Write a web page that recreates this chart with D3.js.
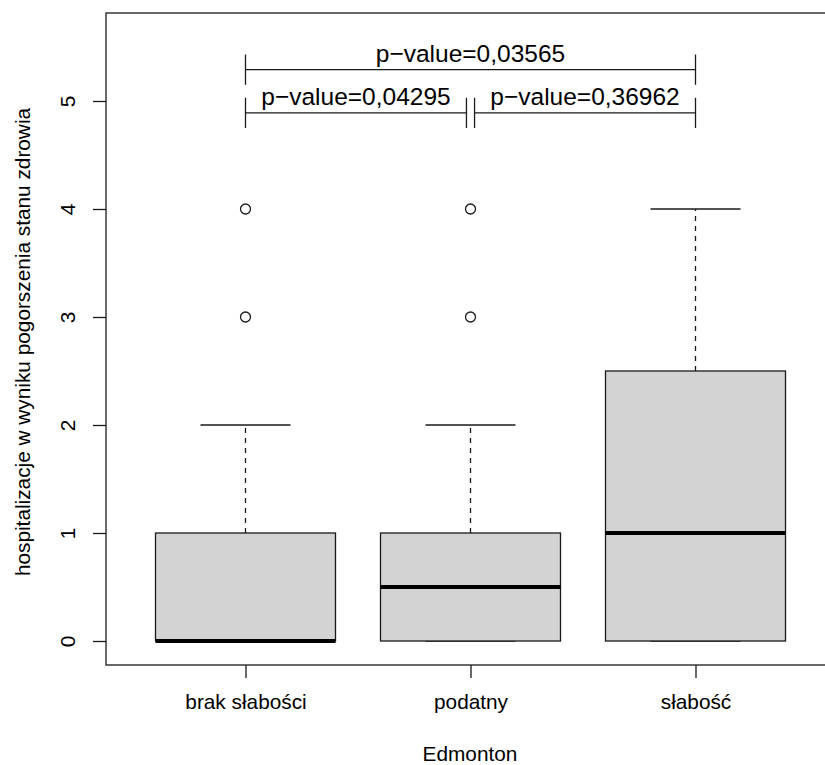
<!DOCTYPE html>
<html>
<head>
<meta charset="utf-8">
<script src="https://cdn.jsdelivr.net/npm/d3@7"></script>
<style>
  html, body { margin: 0; padding: 0; background: #fff; }
  svg { display: block; font-family: "Liberation Sans", Arial, sans-serif; }
</style>
</head>
<body>
<svg id="chart" width="825" height="765"></svg>
<script>
// Box statistics per Edmonton frailty group
const categories   = ["brak słabości", "podatny", "słabość"];
const whiskerLow   = [0, 0, 0];
const q1           = [0, 0, 0];
const median       = [0, 0.5, 1];
const q3           = [1, 1, 2.5];
const whiskerHigh  = [2, 2, 4];
const outliers     = [[3, 4], [3, 4], []];

// Pairwise comparisons drawn as brackets above the boxes
const pairFrom   = [1, 2, 1];
const pairTo     = [2, 3, 3];
const pairLevel  = [4.89, 4.89, 5.29];
const pairLabels = ["p\u2212value=0,04295", "p\u2212value=0,36962", "p\u2212value=0,03565"];

const yTicks = [0, 1, 2, 3, 4, 5];
const xTitle = "Edmonton";
const yTitle = "hospitalizacje w wyniku pogorszenia stanu zdrowia";

const svg = d3.select("#chart");
const ink = "#1a1a1a";
const labelSize = 20.8;

const x = d3.scaleLinear().domain([0.38, 3.62]).range([106, 835]);
const y = d3.scaleLinear().domain([-0.2222, 5.8148]).range([665, 13]);
const unit = x(2) - x(1);
const boxHalf = unit * 0.4;
const capHalf = boxHalf / 2;

const g = svg.append("g");

// boxes
categories.forEach((c, i) => {
  const cx = x(i + 1);
  // whiskers (dashed)
  g.append("line").attr("x1", cx).attr("x2", cx)
    .attr("y1", y(q3[i])).attr("y2", y(whiskerHigh[i]))
    .attr("stroke", ink).attr("stroke-width", 1.3).attr("stroke-dasharray", "5,5");
  g.append("line").attr("x1", cx).attr("x2", cx)
    .attr("y1", y(q1[i])).attr("y2", y(whiskerLow[i]))
    .attr("stroke", ink).attr("stroke-width", 1.3).attr("stroke-dasharray", "5,5");
  // caps
  [whiskerLow[i], whiskerHigh[i]].forEach(v => {
    g.append("line").attr("x1", cx - capHalf).attr("x2", cx + capHalf)
      .attr("y1", y(v)).attr("y2", y(v))
      .attr("stroke", ink).attr("stroke-width", 1.3);
  });
  // box
  g.append("rect")
    .attr("x", cx - boxHalf).attr("width", 2 * boxHalf)
    .attr("y", y(q3[i])).attr("height", y(q1[i]) - y(q3[i]))
    .attr("fill", "#d3d3d3").attr("stroke", ink).attr("stroke-width", 1.3);
  // median
  g.append("line").attr("x1", cx - boxHalf).attr("x2", cx + boxHalf)
    .attr("y1", y(median[i])).attr("y2", y(median[i]))
    .attr("stroke", "#000").attr("stroke-width", 4);
  // outliers
  outliers[i].forEach(v => {
    g.append("circle").attr("cx", cx).attr("cy", y(v)).attr("r", 5)
      .attr("fill", "none").attr("stroke", ink).attr("stroke-width", 1.3);
  });
});

// comparison brackets
const tickH = 0.14;
const inset = 0.018;
pairFrom.forEach((a, k) => {
  const b = pairTo[k];
  const lvl = pairLevel[k];
  const adjacent = (b - a) === 1;
  const xa = x(a + (adjacent && a === 2 ? inset : 0));
  const xb = x(b - (adjacent && b === 2 ? inset : 0));
  const yl = y(lvl);
  const bg = svg.append("g").attr("stroke", ink).attr("stroke-width", 1.3);
  bg.append("line").attr("x1", xa).attr("x2", xb).attr("y1", yl).attr("y2", yl);
  bg.append("line").attr("x1", xa).attr("x2", xa).attr("y1", y(lvl + tickH)).attr("y2", y(lvl - tickH));
  bg.append("line").attr("x1", xb).attr("x2", xb).attr("y1", y(lvl + tickH)).attr("y2", y(lvl - tickH));
  svg.append("text")
    .attr("x", (xa + xb) / 2).attr("y", yl - 8)
    .attr("text-anchor", "middle").attr("font-size", 24.5).attr("fill", "#000")
    .text(pairLabels[k]);
});

// frame
svg.append("rect").attr("x", 106).attr("y", 13)
  .attr("width", 835 - 106).attr("height", 665 - 13)
  .attr("fill", "none").attr("stroke", ink).attr("stroke-width", 1.3);

// y axis
const yAxis = svg.append("g").attr("transform", "translate(106,0)")
  .call(d3.axisLeft(y).tickValues(yTicks).tickSize(13).tickSizeOuter(0).tickFormat(d3.format("d")));
yAxis.select(".domain").remove();
yAxis.selectAll("line").attr("stroke", ink).attr("stroke-width", 1.3);
yAxis.selectAll("text")
  .attr("x", null).attr("dy", null)
  .attr("text-anchor", "middle")
  .attr("transform", "translate(-31,0) rotate(-90)")
  .attr("font-size", labelSize).attr("font-family", "Liberation Sans, Arial, sans-serif").attr("fill", "#000");

// x axis
const xAxis = svg.append("g").attr("transform", "translate(0,665)")
  .call(d3.axisBottom(x).tickValues([1, 2, 3]).tickSize(13).tickSizeOuter(0)
    .tickFormat(d => categories[d - 1]));
xAxis.select(".domain").remove();
xAxis.selectAll("line").attr("stroke", ink).attr("stroke-width", 1.3);
xAxis.selectAll("text")
  .attr("y", 44).attr("dy", null)
  .attr("font-size", labelSize).attr("font-family", "Liberation Sans, Arial, sans-serif").attr("fill", "#000");

// titles
svg.append("text").attr("x", 470).attr("y", 761)
  .attr("text-anchor", "middle").attr("font-size", labelSize).attr("fill", "#000")
  .text(xTitle);
svg.append("text")
  .attr("transform", "translate(30,342) rotate(-90)")
  .attr("text-anchor", "middle").attr("font-size", labelSize).attr("fill", "#000")
  .text(yTitle);
</script>
</body>
</html>
